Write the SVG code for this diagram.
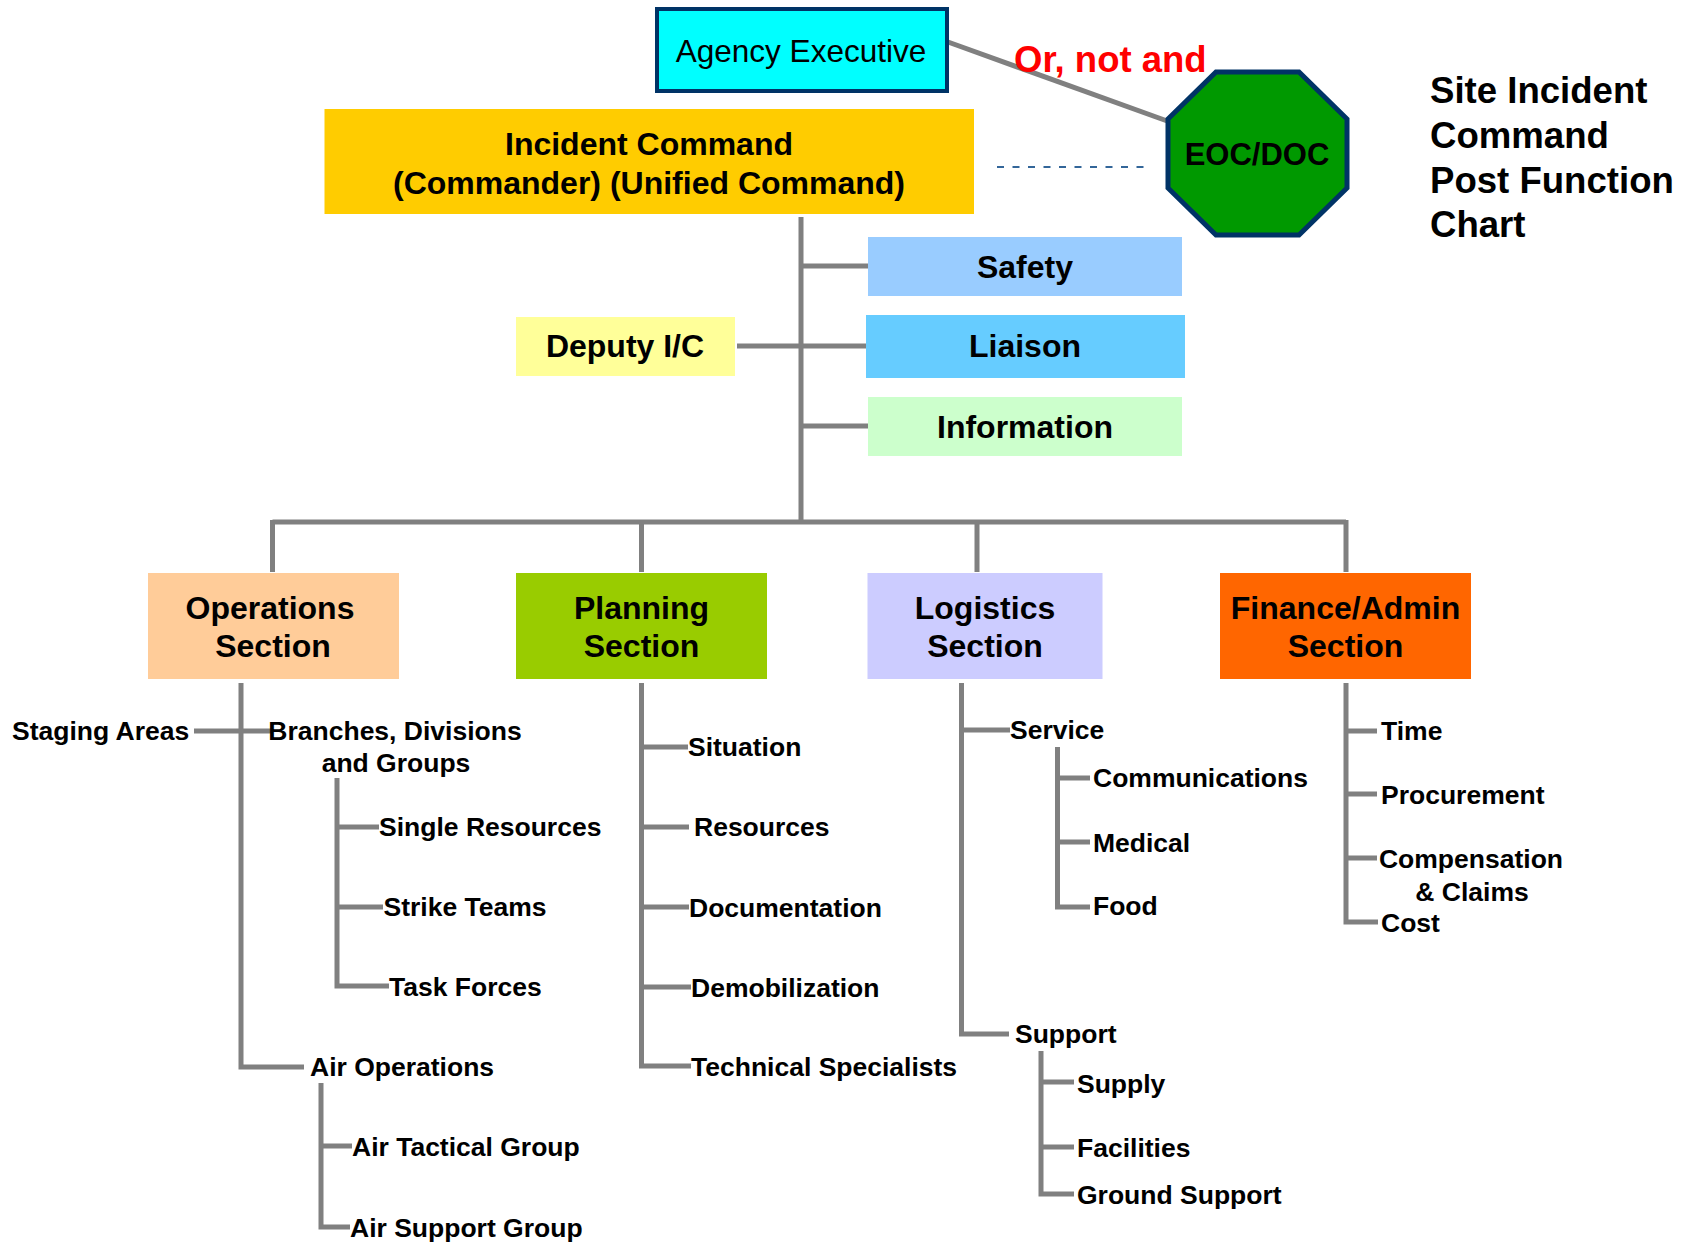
<svg xmlns="http://www.w3.org/2000/svg" width="1696" height="1242" viewBox="0 0 1696 1242">
<style>
text{font-family:"Liberation Sans",Arial,sans-serif;fill:#000}
.b{font-weight:bold}
.big{font-size:32px;font-weight:bold;text-anchor:middle}
.sub{font-size:26.5px;font-weight:bold}
.ln{fill:none;stroke:#808080;stroke-width:5;stroke-linejoin:miter}
</style>
<rect width="1696" height="1242" fill="#fff"/>
<g id="connectors">
<line x1="801" y1="90" x2="801" y2="122" stroke="#fff" stroke-width="4"/>
<line x1="948" y1="42" x2="1170" y2="122" stroke="#808080" stroke-width="5"/>
<line x1="997" y1="167" x2="1148" y2="167" stroke="#336699" stroke-width="2" stroke-dasharray="7,8.5"/>
<path class="ln" d="M801 217 V522 M801 266 H868 M737 346 H866 M801 426 H868 M272.5 522 H1346 M272.5 520 V572 M641.5 520 V572 M977 520 V572 M1346 520 V572"/>
<path class="ln" d="M241 683 V1067 H304 M194 731 H273 M337 778 V986 H389 M337 827 H379 M337 907 H383 M321 1083 V1227 H350 M321 1146 H352"/>
<path class="ln" d="M641.5 683 V1066 H691 M641.5 747 H688 M641.5 827 H689 M641.5 907 H689 M641.5 987 H691"/>
<path class="ln" d="M961.5 683 V1034 H1009 M961.5 730 H1010 M1057.5 747 V907 H1090 M1057.5 778 H1090 M1057.5 842 H1090 M1041 1051 V1194 H1074 M1041 1082 H1074 M1041 1147 H1074"/>
<path class="ln" d="M1346 683 V922 H1378 M1346 731 H1377 M1346 794 H1377 M1346 858 H1377"/>
</g>
<g id="agency-executive">
<rect x="657" y="9" width="290" height="82" fill="#00FFFF" stroke="#003366" stroke-width="4"/>
<text x="801" y="62" font-size="31.5" text-anchor="middle">Agency Executive</text>
</g>
<g id="or-not-and"><text x="1014" y="72" class="b" font-size="36.5" style="fill:#FF0000">Or, not and</text></g>
<g id="incident-command">
<rect x="324.5" y="109" width="649.5" height="105" fill="#FFCC00"/>
<text x="649" y="155" class="big">Incident Command</text>
<text x="649" y="194" class="big">(Commander) (Unified Command)</text>
</g>
<g id="eoc-doc">
<polygon points="1216,72 1299,72 1347,119 1347,188 1299,235 1216,235 1168,188 1168,119" fill="#009900" stroke="#003366" stroke-width="5"/>
<text x="1257" y="165" class="b" font-size="31" text-anchor="middle">EOC/DOC</text>
</g>
<g id="title">
<text class="b" font-size="36.6"><tspan x="1430" y="103">Site Incident</tspan><tspan x="1430" y="148">Command</tspan><tspan x="1430" y="193">Post Function</tspan><tspan x="1430" y="237">Chart</tspan></text>
</g>
<g id="safety"><rect x="868" y="237" width="314" height="59" fill="#99CCFF"/><text x="1025" y="278" class="big" font-size="31">Safety</text></g>
<g id="liaison"><rect x="866" y="315" width="319" height="63" fill="#66CCFF"/><text x="1025" y="357" class="big">Liaison</text></g>
<g id="information"><rect x="868" y="397" width="314" height="59" fill="#CCFFCC"/><text x="1025" y="438" class="big">Information</text></g>
<g id="deputy"><rect x="516" y="317" width="219" height="59" fill="#FFFF99"/><text x="625" y="357" class="big">Deputy I/C</text></g>
<g id="operations"><rect x="148" y="573" width="251" height="106" fill="#FFCC99"/><text x="270" y="619" class="big">Operations</text><text x="273" y="657" class="big">Section</text></g>
<g id="planning"><rect x="516" y="573" width="251" height="106" fill="#99CC00"/><text x="641.5" y="619" class="big">Planning</text><text x="641.5" y="657" class="big">Section</text></g>
<g id="logistics"><rect x="867.5" y="573" width="235" height="106" fill="#CCCCFF"/><text x="985" y="619" class="big">Logistics</text><text x="985" y="657" class="big">Section</text></g>
<g id="finance"><rect x="1220" y="573" width="251" height="106" fill="#FF6600"/><text x="1345.5" y="619" class="big">Finance/Admin</text><text x="1345.5" y="657" class="big">Section</text></g>
<g id="ops-items">
<text x="12" y="740" class="sub">Staging Areas</text>
<text x="395" y="740" class="sub" text-anchor="middle">Branches, Divisions</text>
<text x="396" y="772" class="sub" text-anchor="middle">and Groups</text>
<text x="379" y="836" class="sub">Single Resources</text>
<text x="383.5" y="916" class="sub">Strike Teams</text>
<text x="389" y="996" class="sub">Task Forces</text>
<text x="310" y="1076" class="sub">Air Operations</text>
<text x="352" y="1156" class="sub">Air Tactical Group</text>
<text x="350" y="1237" class="sub">Air Support Group</text>
</g>
<g id="planning-items">
<text x="688" y="756" class="sub">Situation</text>
<text x="694" y="836" class="sub">Resources</text>
<text x="689" y="917" class="sub">Documentation</text>
<text x="691" y="997" class="sub">Demobilization</text>
<text x="691" y="1076" class="sub">Technical Specialists</text>
</g>
<g id="logistics-items">
<text x="1010" y="739" class="sub">Service</text>
<text x="1093" y="787" class="sub">Communications</text>
<text x="1093" y="852" class="sub">Medical</text>
<text x="1093" y="915" class="sub">Food</text>
<text x="1015" y="1043" class="sub">Support</text>
<text x="1077" y="1093" class="sub">Supply</text>
<text x="1077" y="1157" class="sub">Facilities</text>
<text x="1077" y="1204" class="sub">Ground Support</text>
</g>
<g id="finance-items">
<text x="1381" y="740" class="sub">Time</text>
<text x="1381" y="804" class="sub">Procurement</text>
<text x="1471" y="868" class="sub" text-anchor="middle">Compensation</text>
<text x="1472" y="901" class="sub" text-anchor="middle">&amp; Claims</text>
<text x="1381" y="932" class="sub">Cost</text>
</g>
</svg>
